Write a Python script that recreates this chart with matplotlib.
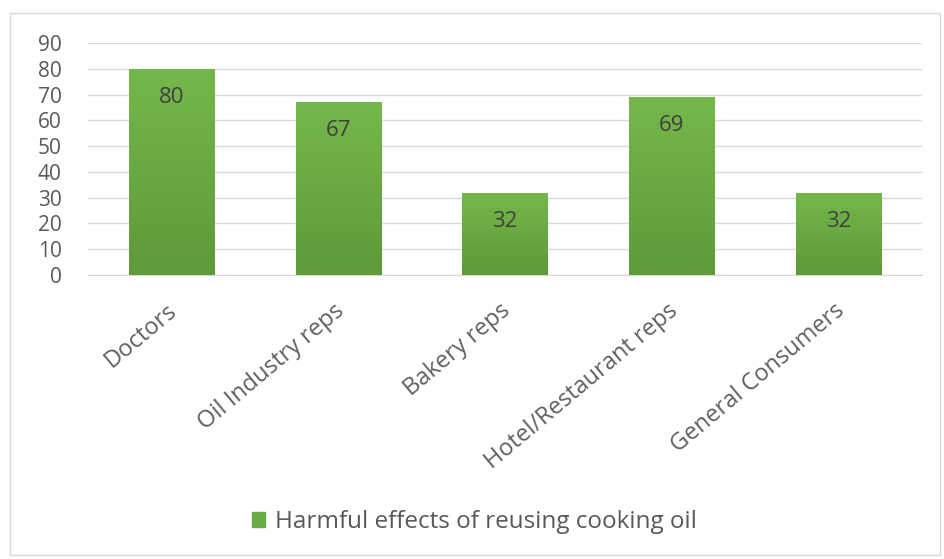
import matplotlib
matplotlib.use("Agg")
import matplotlib.pyplot as plt
import matplotlib.transforms as mtransforms
import numpy as np
from matplotlib.patches import Rectangle

categories = ["Doctors", "Oil Industry reps", "Bakery reps", "Hotel/Restaurant reps", "General Consumers"]
values = [80, 67, 32, 69, 32]
series_name = "Harmful effects of reusing cooking oil"

plt.rcParams['font.family'] = ['Open Sans', 'DejaVu Sans']

fig = plt.figure(figsize=(9.45, 5.59), dpi=100)
fig.patches.append(Rectangle((10/945, 1 - 555/559), 930/945, 542/559, transform=fig.transFigure,
                             fill=False, edgecolor="#d9d9d9", linewidth=1))
ax = fig.add_axes([88/945, 1 - 275/559, 834/945, 232/559])

x = np.arange(len(categories))
bars = ax.bar(x, values, width=0.51, color="#6aab44", zorder=2)

# vertical gradient inside each bar
grad = np.linspace(0, 1, 256).reshape(-1, 1)
cmap = matplotlib.colors.LinearSegmentedColormap.from_list("g", ["#5e9a39", "#74b84a"])
for b in bars:
    x0, w, h = b.get_x(), b.get_width(), b.get_height()
    im = ax.imshow(grad, extent=[x0, x0 + w, 0, h], origin="lower", cmap=cmap,
                   aspect="auto", zorder=3)
    im.set_clip_path(b)
    ax.annotate(str(int(h)), (x0 + w / 2, h), xytext=(0, -13), textcoords="offset points",
                ha="center", va="top", fontsize=16, color="#404040", zorder=4)

ax.set_xlim(-0.5, len(categories) - 0.5)
ax.set_ylim(0, 90)
ax.set_yticks(range(0, 91, 10))
ax.yaxis.grid(True, color="#d9d9d9", linewidth=1, zorder=0)
ax.set_axisbelow(True)
for s in ax.spines.values():
    s.set_visible(False)
ax.spines['bottom'].set_visible(True)
ax.spines['bottom'].set_color("#d9d9d9")
ax.tick_params(axis="both", length=0, labelsize=15, colors="#595959")
ax.tick_params(axis="y", pad=19)
ax.set_xticks(x)
ax.set_xticklabels(categories, rotation=40, ha="right", rotation_mode="anchor",
                   fontsize=17, color="#606060")
ax.tick_params(axis="x", pad=17)
shift = mtransforms.ScaledTranslation(-5/100, 0, fig.dpi_scale_trans)
for lbl in ax.get_xticklabels():
    lbl.set_transform(lbl.get_transform() + shift)

ax.legend([Rectangle((0, 0), 1, 1, color="#6aab44")], [series_name], loc="center",
          bbox_to_anchor=(474/945, 1 - 522/559), bbox_transform=fig.transFigure,
          frameon=False, fontsize=17.5, handlelength=0.55, handleheight=0.55,
          handletextpad=0.4, labelcolor="#595959")

fig.savefig("out.png", dpi=100)
